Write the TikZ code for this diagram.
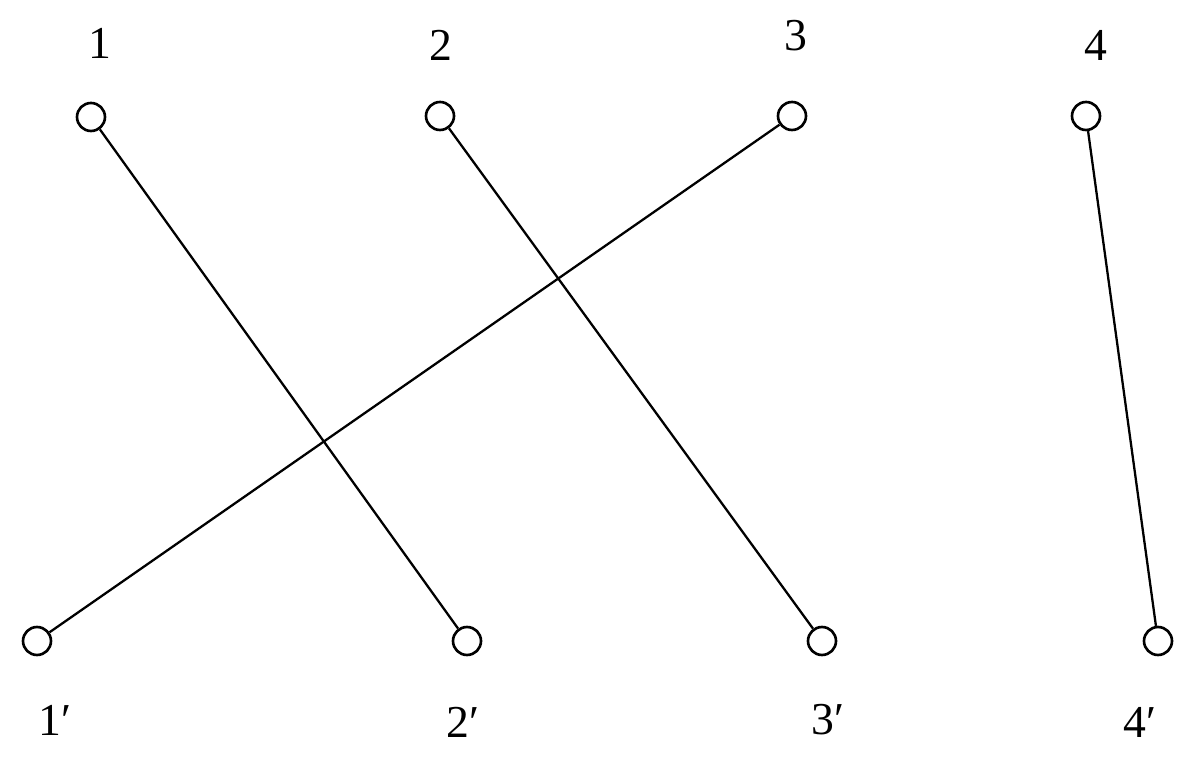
\documentclass[tikz,border=0pt]{standalone}
\usepackage{fontspec}
\setmainfont{Liberation Serif}
\begin{document}
\begin{tikzpicture}[x=0.02cm,y=-0.02cm,
  vtx/.style={circle,draw,line width=1.5pt,minimum size=0.56cm,inner sep=0pt,fill=white},
  lbl/.style={font=\fontsize{26}{30}\selectfont,inner sep=0pt},
  edge/.style={line width=1.3pt}]
\useasboundingbox (0,0) rectangle (1187,763);
\node[vtx] (t1) at (91,117) {};
\node[vtx] (t2) at (440,116) {};
\node[vtx] (t3) at (792,116) {};
\node[vtx] (t4) at (1086,116) {};
\node[vtx] (b1) at (37,641) {};
\node[vtx] (b2) at (467,641) {};
\node[vtx] (b3) at (822,641) {};
\node[vtx] (b4) at (1158,641) {};
\node[lbl] (l1) at (100,43) {1};
\node[lbl] (l2) at (441,45) {2};
\node[lbl] (l3) at (796,36) {3};
\node[lbl] (l4) at (1096,45) {4};
\node[lbl] (m1) at (55,720) {1′};
\node[lbl] (m2) at (463,722) {2′};
\node[lbl] (m3) at (828,720) {3′};
\node[lbl] (m4) at (1140,722) {4′};
\draw[edge] (t1) -- (b2);
\draw[edge] (t2) -- (b3);
\draw[edge] (t3) -- (b1);
\draw[edge] (t4) -- (b4);
\end{tikzpicture}
\end{document}
